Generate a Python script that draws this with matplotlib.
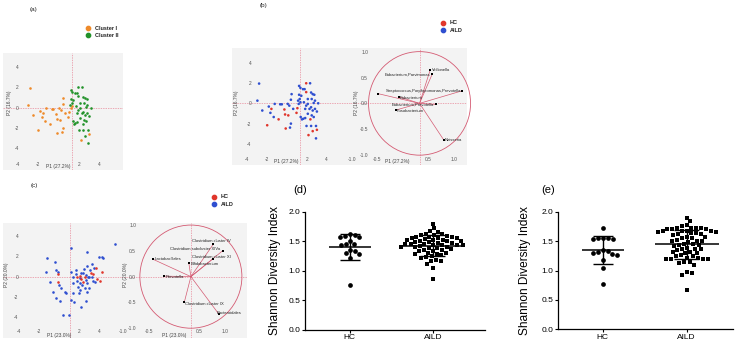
import numpy as np
import matplotlib.pyplot as plt
from matplotlib.lines import Line2D
from matplotlib.patches import Circle

plt.rcParams['font.family'] = ['Liberation Sans', 'DejaVu Sans']

W, H = 740, 348

# PCA 1 (panels a, b): sample scores, split by k-means cluster; *_hc marks healthy controls
c1_x = [-2.76, -2.93, -2.44, -1.95, -1.79, -1.63, -1.53, -1.30, -1.20, -0.81, -0.65, -0.49, -0.23, -0.16, -0.10,
        0.10, 0.16, 0.26, 0.33, 0.42, 0.42, 0.49, 0.65, 0.98, 1.07, 1.20, 1.37, 2.18, 3.02]
c1_y = [1.94, 0.26, -0.71, -2.16, -0.32, -0.94, -0.55, -1.35, -0.06, -1.58, -0.10, -0.10, -0.61, -1.10, -2.48,
        -0.06, -1.19, -0.23, -2.39, -2.00, 0.35, 0.90, -0.55, -0.94, -0.48, -0.06, 0.10, -3.13, -2.61]
c1_hc = [0, 0, 0, 1, 0, 0, 1, 0, 0, 1, 0, 0, 1, 1, 1, 0, 1, 0, 0, 0, 0, 0, 0, 1, 1, 0, 0, 1, 1]

c2_x = [1.24, 1.37, 1.63, 1.95, 2.34, 1.24, 1.30, 1.46, 1.95, 2.11, 2.44, 2.60, 2.76, 2.50, 2.70, 2.83, 3.15,
        1.72, 1.95, 2.11, 1.85, 2.28, 2.44, 2.60, 2.83, 3.02, 2.11, 2.50, 1.53, 1.66, 1.85, 1.40, 2.37, 2.70,
        1.98, 2.44, 2.93, 2.60, 2.93, 1.14, 1.79]
c2_y = [1.71, 1.52, 1.39, 1.97, 1.97, 0.84, 0.42, 0.74, 1.10, 0.42, 1.06, 0.90, 0.84, 0.42, 0.03, 0.26, 0.00,
        0.10, -0.23, -0.06, -0.55, -0.55, -0.39, -0.71, -0.55, -0.81, -1.03, -1.19, -1.58, -1.52, -1.45, -1.35,
        -1.58, -1.35, -2.23, -2.23, -2.23, -2.74, -3.45, 0.26, 1.39]
c2_hc = [0, 0, 0, 1, 0, 0, 0, 0, 1, 0, 0, 0, 0, 0, 0, 0, 0, 0, 0, 0, 0, 0, 0, 0, 0, 0, 0, 0, 0, 0, 0, 0,
         1, 0, 0, 0, 0, 1, 0, 0, 0]

# genus loadings (panel b)
b_names = ['Veillonella', 'Eubacterium,Parvimonas', '', 'Streptococcus,Porphyromonas,Prevotella',
           'Eubacterium', 'Eubacterium,Prevotella', 'Fusobacterium', 'Neisseria']
b_load_x = [0.54, 0.58, -0.49, 1.17, -0.08, 0.65, -0.14, 0.80]
b_load_y = [0.65, 0.57, 0.19, 0.245, 0.13, -0.02, -0.13, -0.70]

# PCA 2 (panel c)
c_aild_x = [5.56, 1.16, 2.81, -1.23, -0.40, 4.00, 4.24, 4.40, 3.25, 2.81, -0.30, -0.07, 1.69, 2.48, 3.08, 3.51,
            -1.29, 1.16, 1.69, 2.15, 2.42, 2.68, 3.01, 3.25, 1.42, 1.75, 2.09, 2.65, 2.91, 3.41, 3.58, -0.89,
            2.09, 2.25, 1.42, 2.81, 0.03, 0.17, 1.92, 2.05, 2.62, 2.95, 0.60, 0.70, 1.36, 2.02, 2.75, -0.30,
            0.13, 1.19, 1.49, 2.68, 2.19, 0.43, 0.99, -0.56]
c_aild_y = [3.20, 2.84, 2.45, 1.86, 1.47, 1.90, 1.90, 1.80, 1.21, 1.05, 0.65, 0.49, 0.65, 0.72, 0.65, 0.82,
            0.42, 0.49, 0.26, 0.33, 0.33, 0.16, 0.00, -0.06, -0.07, -0.39, -0.16, -0.33, -0.06, -0.42, -0.56,
            -0.56, -0.65, -0.82, -0.65, -0.65, -0.82, -1.14, -0.98, -1.31, -1.14, -1.14, -1.54, -1.63, -1.63,
            -1.63, -1.47, -2.12, -2.35, -2.29, -2.45, -2.39, -2.94, -3.76, -3.76, -1.47]
c_hc_x = [-0.07, -0.07, 2.09, 2.22, 3.15, 3.68, 4.24, 4.07, 3.74, 2.35, 3.35, 1.75, 2.55]
c_hc_y = [0.23, -0.49, 0.07, -0.26, 0.33, 0.88, 0.49, -0.42, -0.26, -0.49, 0.23, -0.06, -0.05]

# taxa loadings (panel c)
c_names = ['Clostridium cluster IV', 'Clostridium subcluster XIVa', 'Clostridium cluster XI', 'Bifidobacterium',
           'Lactobacillales', 'Prevotella', 'Clostridium cluster IX', 'Bacteroidales']
c_load_x = [0.77, 0.95, 0.77, 0.29, -0.42, -0.19, 0.20, 0.88]
c_load_y = [0.63, 0.50, 0.35, 0.26, 0.34, 0.01, -0.50, -0.73]

# Shannon diversity index
d_hc = [1.58, 1.60, 1.57, 1.59, 1.62, 1.45, 1.44, 1.46, 1.50, 1.33, 1.35, 1.30, 1.22, 1.28, 0.76]
d_aild = [1.80, 1.72, 1.67, 1.66, 1.63, 1.62, 1.61,
          1.60, 1.59, 1.58, 1.58, 1.57, 1.56,
          1.55, 1.55, 1.54, 1.53, 1.53, 1.52,
          1.51, 1.50, 1.50, 1.49, 1.48, 1.47, 1.47,
          1.46, 1.45, 1.45, 1.44, 1.44, 1.43, 1.43, 1.42,
          1.41, 1.40, 1.40, 1.39, 1.38,
          1.37, 1.36, 1.35, 1.34, 1.33,
          1.31, 1.30, 1.29, 1.28,
          1.26, 1.25, 1.23, 1.22,
          1.19, 1.17, 1.16, 1.12, 1.05, 0.87]
e_hc = [1.73, 1.55, 1.56, 1.54, 1.55, 1.53, 1.35, 1.33, 1.31, 1.30, 1.28, 1.27, 1.18, 1.05, 0.77]
e_aild = [1.90, 1.84, 1.77, 1.76, 1.73, 1.73, 1.72, 1.72, 1.71, 1.71, 1.70,
          1.68, 1.68, 1.67, 1.67, 1.66, 1.66, 1.63, 1.63, 1.62, 1.62, 1.61,
          1.57, 1.57, 1.56, 1.55, 1.52, 1.51, 1.50, 1.50, 1.49,
          1.45, 1.45, 1.44, 1.43, 1.42, 1.38, 1.37, 1.37, 1.36, 1.35,
          1.32, 1.31, 1.30, 1.30, 1.26, 1.25, 1.24,
          1.21, 1.21, 1.20, 1.20, 1.19, 1.19, 1.15, 1.14, 1.12, 1.10,
          0.97, 0.96, 0.93, 0.67]

ORANGE, GREEN = '#ee8a2a', '#22922a'
RED, BLUE = '#e0362c', '#2f4fd0'
BG = '#f3f3f3'
REF = '#e8899a'
PINK = '#d45a72'
TICK = '#555555'

fig = plt.figure(figsize=(W / 100, H / 100), dpi=100)


def rect(x0, y0, x1, y1):
    return [x0 / W, 1 - y1 / H, (x1 - x0) / W, (y1 - y0) / H]


def pca_axes(box, xlim, ylim, xt, yt, xlab, ylab, xpad, ypad, xlab_at, xlab_top, ylab_right, ylab_mid):
    ax = fig.add_axes(rect(*box))
    ax.set_facecolor(BG)
    for s in ax.spines.values():
        s.set_visible(False)
    ax.set_xlim(xlim)
    ax.set_ylim(ylim)
    ax.set_xticks(xt, [f'{v:g}' if abs(v) >= 2 else f'{v:.1f}' for v in xt])
    ax.set_yticks(yt, [f'{v:g}' if abs(v) >= 2 or v == 0 and max(yt) > 1 else f'{v:.1f}' for v in yt])
    ax.tick_params(length=0, labelsize=3.5, labelcolor=TICK)
    ax.tick_params(axis='x', pad=xpad)
    ax.tick_params(axis='y', pad=ypad)
    x0, y0, x1, y1 = box
    ax.set_xlabel(xlab, fontsize=3.5, color='#444')
    ax.set_ylabel(ylab, fontsize=3.5, color='#444')
    ax.xaxis.set_label_coords((xlab_at - xlim[0]) / (xlim[1] - xlim[0]), (y1 - xlab_top) / (y1 - y0))
    ax.yaxis.set_label_coords((ylab_right - x0) / (x1 - x0), (y1 - ylab_mid) / (y1 - y0))
    return ax


def ref_lines(ax, xc):
    ax.axvline(xc, color=REF, lw=0.5, ls=(0, (2, 1.5)), zorder=1)
    ax.axhline(0, color=REF, lw=0.5, ls=(0, (2, 1.5)), zorder=1)


def biplot(ax, xc, lx, ly, names, offsets):
    ax.add_patch(Circle((xc, 0), 1.0, fill=False, ec=PINK, lw=0.6, clip_on=False, zorder=2))
    for x, y in zip(lx, ly):
        ax.plot([xc, x], [0, y], color=PINK, lw=0.5, zorder=2)
    ax.scatter(lx, ly, marker='s', s=2.2, color='black', lw=0, zorder=4)
    for x, y, name, (dx, dy, ha) in zip(lx, ly, names, offsets):
        if name:
            ax.text(x + dx, y + dy, name, fontsize=3, ha=ha, va='center', color='#222', zorder=5)


def legend(items, x, y):
    handles = [Line2D([], [], ls='none', marker='o', ms=3.1, color=c, label=l) for l, c in items]
    fig.legend(handles=handles, loc='upper left', bbox_to_anchor=(x / W, 1 - y / H), frameon=False,
               prop=dict(size=4, weight='bold'), labelcolor='#222', handlelength=1.0, handletextpad=0.75,
               labelspacing=0.4, borderpad=0, borderaxespad=0)


sc_xt = [-4, -2, 2, 4]
sc_yt = [4, 2, 0, -2, -4]
bi_xt = [-1.0, -0.5, 0.5, 1.0]
bi_yt = [1.0, 0.5, 0.0, -0.5, -1.0]

c1_col = [RED if h else BLUE for h in c1_hc]
c2_col = [RED if h else BLUE for h in c2_hc]

# (a)
ax = pca_axes((3, 53, 123, 170), (-5.42, 6.31), (-6.1, 5.32), sc_xt, sc_yt, 'P1 (27.2%)', 'P2 (16.7%)',
              -6.1, -11.5, 0, 164, 11.8, 103)
ref_lines(ax, 1.3)
ax.scatter(c1_x, c1_y, s=3.5, color=ORANGE, lw=0, zorder=3)
ax.scatter(c2_x, c2_y, s=3.5, color=GREEN, lw=0, zorder=3)
fig.text(34 / W, 1 - 10 / H, '(a)', fontsize=4.5, ha='center', va='center', color='#222')
legend([('Cluster I', ORANGE), ('Cluster II', GREEN)], 85, 25.5)

# (b)
ax = pca_axes((232, 48, 350, 165), (-5.47, 6.33), (-6.07, 5.44), sc_xt, sc_yt, 'P1 (27.2%)', 'P2 (16.7%)',
              -5.9, -14, 0, 158.5, 239.2, 103)
ref_lines(ax, 1.33)
ax.scatter(c1_x + c2_x, c1_y + c2_y, s=3.5, color=c1_col + c2_col, lw=0, zorder=3)
ax = pca_axes((350, 48, 467, 165), (-1.033, 1.26), (-1.19, 1.07), bi_xt, bi_yt, 'P1 (27.2%)', 'P2 (16.7%)',
              -5.9, -13, -0.1, 158.5, 359.2, 103)
ref_lines(ax, 0.33)
b_off = [(0.03, 0, 'left'), (-0.04, -0.02, 'right'), (0, 0, 'left'), (-0.03, 0, 'right'),
         (0.02, -0.02, 'left'), (-0.03, 0.005, 'right'), (0.03, -0.01, 'left'), (0.03, 0, 'left')]
biplot(ax, 0.33, b_load_x, b_load_y, b_names, b_off)
fig.text(263 / W, 1 - 5 / H, '(b)', fontsize=4.5, ha='center', va='center', color='#222')
legend([('HC', RED), ('AILD', BLUE)], 440.2, 20.5)

# (c)
ax = pca_axes((3, 223, 121, 338), (-5.56, 6.16), (-6.01, 5.26), sc_xt, sc_yt, 'P1 (23.0%)', 'P2 (20.0%)',
              -6.8, -11.2, 0, 332.5, 9.2, 275)
ref_lines(ax, 1.1)
ax.scatter(c_aild_x, c_aild_y, s=3.5, color=BLUE, lw=0, zorder=3)
ax.scatter(c_hc_x, c_hc_y, s=3.5, color=RED, lw=0, zorder=3)
ax = pca_axes((121, 223, 247, 338), (-1.04, 1.43), (-1.19, 1.04), bi_xt, bi_yt, 'P1 (23.0%)', 'P2 (20.0%)',
              -6.8, -10.8, 0, 332.5, 128.5, 275)
ref_lines(ax, 0.33)
c_off = [(-0.42, 0.07, 'left'), (-0.05, 0.04, 'right'), (-0.42, 0.04, 'left'), (0.03, -0.01, 'left'),
         (0.03, -0.005, 'left'), (0.03, -0.01, 'left'), (0.02, -0.03, 'left'), (-0.04, 0.02, 'left')]
biplot(ax, 0.33, c_load_x, c_load_y, c_names, c_off)
fig.text(34 / W, 1 - 185 / H, '(c)', fontsize=4.5, ha='center', va='center', color='#222')
legend([('HC', RED), ('AILD', BLUE)], 211.2, 194.5)


def swarm(vals, d, y_scale, x_scale):
    vals = np.asarray(vals, float)
    ys = vals * y_scale
    xs = np.zeros(len(vals))
    placed = []
    for i in np.argsort(-vals, kind='stable'):
        y = ys[i]
        cands = [0.0]
        for px_, py_ in placed:
            dy = abs(y - py_)
            if dy < d:
                dx = np.sqrt(d * d - dy * dy)
                cands += [px_ + dx, px_ - dx]
        for c in sorted(cands, key=abs):
            if all((c - px_) ** 2 + (y - py_) ** 2 >= d * d - 1e-9 for px_, py_ in placed):
                xs[i] = c
                break
        placed.append((xs[i], y))
    return xs / x_scale


def dot_panel(box, xlim, hc, aild, letter, letter_xy, ylab_x):
    ax = fig.add_axes(rect(*box))
    x_scale = (box[2] - box[0]) / (xlim[1] - xlim[0])
    y_scale = (box[3] - box[1]) / 2.0
    groups = [(hc, 'o', 3.4, 0.25, 0.12), (aild, 's', 3.0, 0.38, 0.15)]
    for i, (vals, mk, ms, half, cap) in enumerate(groups):
        xs = i + swarm(vals, 5.0, y_scale, x_scale)
        ax.plot(xs, vals, ls='none', marker=mk, ms=ms, color='black', mew=0, zorder=2)
        m, sd = np.mean(vals), np.std(vals, ddof=1)
        ax.hlines(m, i - half, i + half, color='black', lw=1.1, zorder=3)
        ax.hlines([m - sd, m + sd], i - cap, i + cap, color='black', lw=1.0, zorder=3)
        ax.vlines(i, m - sd, m + sd, color='black', lw=1.0, zorder=3)
    ax.set_xlim(xlim)
    ax.set_ylim(0, 2.0)
    ax.set_xticks([0, 1], ['HC', 'AILD'])
    ax.set_yticks([0, 0.5, 1.0, 1.5, 2.0], ['0.0', '0.5', '1.0', '1.5', '2.0'])
    for s in ('top', 'right'):
        ax.spines[s].set_visible(False)
    for s in ('left', 'bottom'):
        ax.spines[s].set_linewidth(0.9)
    ax.tick_params(direction='out', length=2.2, width=0.8, pad=1, labelsize=6)
    ax.set_ylabel('Shannon Diversity Index', fontsize=8.6)
    ax.yaxis.set_label_coords(ylab_x, 0.5)
    ax.set_facecolor('none')
    fig.text(letter_xy[0] / W, 1 - letter_xy[1] / H, letter, fontsize=8, ha='center', va='center')


dot_panel((305, 211.7, 485, 330), (-0.54, 1.63), d_hc, d_aild, '(d)', (300, 190), -0.133)
dot_panel((557.7, 211.7, 733, 329.3), (-0.536, 1.551), e_hc, e_aild, '(e)', (548.5, 190), -0.152)

fig.savefig('out.png', dpi=100)
